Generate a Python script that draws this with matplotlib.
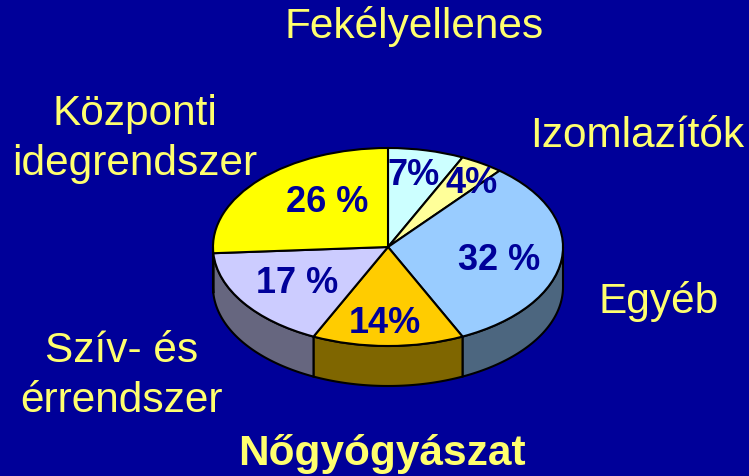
import numpy as np
import matplotlib
matplotlib.use("Agg")
import matplotlib.pyplot as plt
from matplotlib.patches import Polygon
from matplotlib.transforms import Affine2D

# ---- data ----
categories = ["Fekélyellenes", "Izomlazítók", "Egyéb", "Nőgyógyászat",
              "Szív- és érrendszer", "Központi idegrendszer"]
values = [7, 4, 32, 14, 17, 26]
pct_labels = ["7%", "4%", "32 %", "14%", "17 %", "26 %"]

# ---- style / layout ----
top_colors = ["#CCFFFF", "#FFFF99", "#99CCFF", "#FFCC00", "#CCCCFF", "#FFFF00"]
side_colors = ["#667F7F", "#7F7F4C", "#4C667F", "#7F6600", "#66667F", "#7F7F00"]
BG = "#000099"
LABEL_COLOR = "#FFFF6E"
PCT_COLOR = "#000099"
cx, cy, rx, ry, depth = 388, 247, 175, 99, 40

# category label layout: (lines, x, baselines, bold)
cat_layout = {
    "Fekélyellenes": (["Fekélyellenes"], 414, [38], False),
    "Izomlazítók": (["Izomlazítók"], 637, [147], False),
    "Egyéb": (["Egyéb"], 659, [313], False),
    "Nőgyógyászat": (["Nőgyógyászat"], 382, [465], True),
    "Szív- és érrendszer": (["Szív- és", "érrendszer"], 122, [362, 412], False),
    "Központi idegrendszer": (["Központi", "idegrendszer"], 135, [125, 175], False),
}
pct_pos = {"7%": (414, 185), "4%": (472, 193), "32 %": (499, 270),
           "14%": (385, 333), "17 %": (297, 293), "26 %": (327, 212)}

plt.rcParams["font.family"] = ["Liberation Sans", "DejaVu Sans"]

fig = plt.figure(figsize=(7.49, 4.76), dpi=100, facecolor=BG)
ax = fig.add_axes([0, 0, 1, 1])

# ---- top face via pie, mapped onto an ellipse ----
wedges, _ = ax.pie(values, colors=top_colors, startangle=90, counterclock=False,
                   radius=1, wedgeprops=dict(edgecolor="black", linewidth=1.5))
trans = Affine2D().scale(rx, -ry).translate(cx, cy) + ax.transData
for w in wedges:
    w.set_transform(trans)
    w.set_zorder(3)

# ---- side (extrusion) for the front half ----
cum = np.concatenate([[0], np.cumsum(values)]) / np.sum(values) * 360.0
for i in range(len(values)):
    t_start = 90 - cum[i + 1]
    t_end = 90 - cum[i]
    a = max(t_start, -180)
    b = min(t_end, 0)
    if a >= b:
        a2, b2 = max(t_start + 360, 180), min(t_end + 360, 360)
        if a2 >= b2:
            continue
        a, b = a2, b2
    th = np.radians(np.linspace(a, b, 80))
    xs = cx + rx * np.cos(th)
    ys_top = cy - ry * np.sin(th)
    ys_bot = ys_top + depth
    pts = np.concatenate([np.column_stack([xs, ys_top]),
                          np.column_stack([xs[::-1], ys_bot[::-1]])])
    ax.add_patch(Polygon(pts, closed=True, facecolor=side_colors[i],
                         edgecolor="black", linewidth=1.5, zorder=2))

ax.set_aspect("auto")
ax.set_xlim(0, 749)
ax.set_ylim(476, 0)
ax.axis("off")

# ---- texts ----
for name in categories:
    lines, x, bls, bold = cat_layout[name]
    for line, bl in zip(lines, bls):
        ax.text(x, bl, line, ha="center", va="baseline", fontsize=30.5,
                color=LABEL_COLOR, fontweight="bold" if bold else "normal", zorder=5)

for lab in pct_labels:
    x, bl = pct_pos[lab]
    ax.text(x, bl, lab, ha="center", va="baseline", fontsize=26,
            color=PCT_COLOR, fontweight="bold", zorder=5)

fig.savefig("out.png", dpi=100, facecolor=BG)
